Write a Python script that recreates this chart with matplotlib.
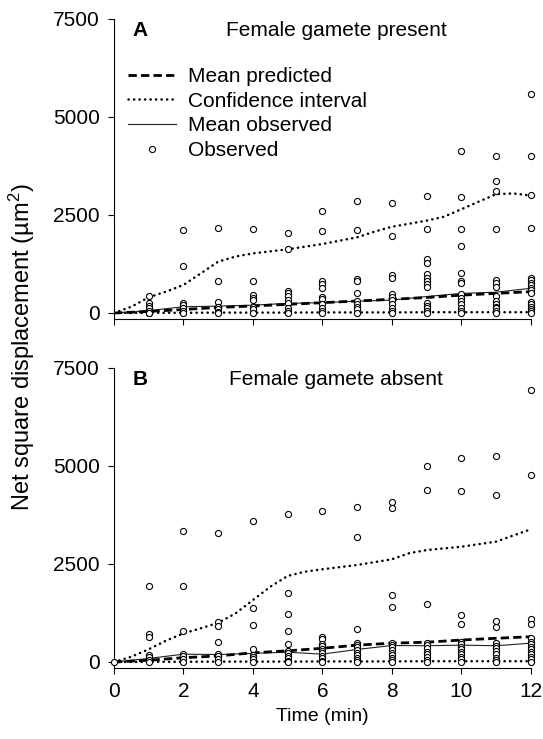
import matplotlib
matplotlib.use("Agg")
import matplotlib.pyplot as plt
from matplotlib.lines import Line2D

plt.rcParams['font.family'] = ['Liberation Sans', 'DejaVu Sans']
plt.rcParams['mathtext.fontset'] = 'custom'
plt.rcParams['mathtext.rm'] = 'Liberation Sans'

# ---- time axis (min) ----
times = list(range(13))
ci_times_a = [0, 0.5, 1, 1.5, 2, 2.5, 3, 3.5, 4, 5, 6, 7, 7.5, 8, 9, 9.5,
              10, 10.5, 11, 11.5, 12]
ci_times_b = [0, 0.5, 1, 1.5, 2, 2.5, 3, 3.5, 4, 4.5, 5, 5.5, 6, 7, 8, 8.5,
              9, 10, 11, 12]

# ---- Panel A: female gamete present ----
obs_a = {
    1: [430, 250, 180, 120, 50, 10, 0],
    2: [2120, 1200, 260, 200, 140, 60, 0],
    3: [2170, 820, 290, 160, 90, 30, 0],
    4: [2150, 820, 460, 390, 330, 160, 90, 0],
    5: [2040, 1625, 570, 500, 440, 330, 250, 140, 50, 0],
    6: [2600, 2100, 820, 730, 640, 420, 350, 220, 140, 50, 0],
    7: [2850, 2120, 880, 820, 520, 310, 220, 160, 90, 0],
    8: [2800, 1970, 980, 890, 480, 410, 330, 220, 140, 50, 0],
    9: [2980, 2140, 1370, 1280, 990, 900, 820, 730, 670, 250, 180, 120, 50, 0],
    10: [4130, 2950, 2140, 1710, 1010, 820, 770, 480, 390, 310, 220, 140, 50, 0],
    11: [4010, 3370, 3120, 2140, 840, 760, 670, 430, 300, 220, 160, 120, 50, 0],
    12: [5590, 4000, 3000, 2160, 900, 840, 770, 710, 650, 590, 520, 290, 220, 160, 90, 50, 0],
}
pred_a = [0, 40, 90, 140, 180, 220, 263, 306, 349, 395, 455, 500, 545]
mean_obs_a = [0, 60, 160, 175, 200, 245, 265, 300, 330, 420, 500, 530, 630]
ci_hi_a = [0, 160, 400, 545, 715, 1010, 1310, 1440, 1520, 1625, 1760, 1930,
           2075, 2200, 2355, 2455, 2645, 2840, 3030, 3050, 2995]
ci_lo_a = [0, 5, 5, 10, 10, 10, 15, 15, 15, 20, 20, 20, 20]

# ---- Panel B: female gamete absent ----
obs_b = {
    0: [0],
    1: [1950, 710, 640, 180, 120, 50, 10],
    2: [3340, 1940, 780, 200, 150, 80, 10],
    3: [3290, 1030, 930, 520, 200, 150, 70, 10],
    4: [3600, 1370, 940, 330, 180, 120, 70, 10],
    5: [3780, 1770, 1220, 790, 450, 280, 220, 150, 90, 30, 0],
    6: [3840, 650, 580, 470, 400, 330, 280, 220, 150, 90, 30, 0],
    7: [3950, 3180, 830, 490, 430, 370, 310, 240, 180, 110, 50, 0],
    8: [4070, 3940, 1710, 1400, 490, 430, 370, 310, 240, 180, 110, 50, 0],
    9: [5000, 4390, 1480, 490, 430, 350, 260, 200, 140, 50, 0],
    10: [5210, 4350, 1200, 980, 520, 450, 390, 320, 260, 200, 140, 70, 0],
    11: [5260, 4270, 1040, 890, 480, 410, 350, 280, 200, 110, 50, 0],
    12: [6940, 4780, 1090, 970, 600, 520, 450, 390, 320, 260, 200, 140, 70, 10],
}
pred_b = [0, 45, 110, 155, 235, 285, 350, 430, 480, 505, 560, 605, 645]
mean_obs_b = [0, 90, 200, 190, 220, 250, 200, 320, 420, 415, 430, 415, 480]
ci_hi_b = [0, 135, 325, 545, 730, 860, 1000, 1240, 1580, 1920, 2195, 2305,
           2365, 2475, 2620, 2775, 2855, 2940, 3070, 3385]
ci_lo_b = [0, 5, 5, 10, 10, 10, 15, 15, 15, 20, 20, 20, 20]

yticks = [0, 2500, 5000, 7500]
xticks = [0, 2, 4, 6, 8, 10, 12]

FS = 15
dash_style = (0, (3, 1.5))
dot_style = (0, (0.1, 2.1))
DOT_LW = 1.8

fig = plt.figure(figsize=(5.43, 7.39), dpi=100)
ax_a = fig.add_axes([0.20994, 0.56834, 0.76740, 0.40595])
ax_b = fig.add_axes([0.20994, 0.09608, 0.76740, 0.40595])


def draw_panel(ax, obs, pred, mean_obs, ci_t, ci_hi, ci_lo, letter, title):
    ax.plot(ci_t, ci_hi, color='black', lw=DOT_LW, linestyle=dot_style,
            dash_capstyle='round', zorder=2)
    ax.plot(times, ci_lo, color='black', lw=DOT_LW, linestyle=dot_style,
            dash_capstyle='round', zorder=2)
    ax.plot(times, mean_obs, color='#222222', lw=0.8, zorder=3)
    ax.plot(times, pred, color='black', lw=2.0, linestyle=dash_style, zorder=3)
    xs, ys = [], []
    for t, vals in obs.items():
        xs.extend([t] * len(vals))
        ys.extend(vals)
    ax.plot(xs, ys, linestyle='none', marker='o', ms=4.4, mfc='white',
            mec='black', mew=0.8, zorder=4, clip_on=False)

    ax.set_xlim(0, 12)
    ax.set_ylim(-153, 7500)
    ax.set_xticks(xticks)
    ax.set_yticks(yticks)
    for side in ('top', 'right'):
        ax.spines[side].set_visible(False)
    for side in ('left', 'bottom'):
        ax.spines[side].set_linewidth(0.8)
    ax.tick_params(axis='both', direction='out', length=4, width=0.8,
                   labelsize=FS)
    ax.tick_params(axis='y', pad=6)
    ax.tick_params(axis='x', pad=6)
    ax.text(0.045, 0.943, letter, transform=ax.transAxes, fontsize=FS,
            fontweight='bold', va='baseline', ha='left')
    ax.text(0.533, 0.943, title, transform=ax.transAxes, fontsize=FS,
            va='baseline', ha='center')


draw_panel(ax_a, obs_a, pred_a, mean_obs_a, ci_times_a, ci_hi_a, ci_lo_a,
           'A', 'Female gamete present')
draw_panel(ax_b, obs_b, pred_b, mean_obs_b, ci_times_b, ci_hi_b, ci_lo_b,
           'B', 'Female gamete absent')
ax_a.tick_params(axis='x', labelbottom=False)

handles = [
    Line2D([], [], color='black', lw=2.0, linestyle=dash_style),
    Line2D([], [], color='black', lw=DOT_LW, linestyle=dot_style,
           dash_capstyle='round'),
    Line2D([], [], color='#222222', lw=0.8),
    Line2D([], [], linestyle='none', marker='o', ms=4.4, mfc='white',
           mec='black', mew=0.8),
]
labels = ['Mean predicted', 'Confidence interval', 'Mean observed', 'Observed']
ax_a.legend(handles, labels, loc='upper left', bbox_to_anchor=(0.033, 0.84),
            frameon=False, fontsize=FS, handlelength=2.3,
            handletextpad=0.6, labelspacing=0.27, borderpad=0,
            borderaxespad=0)

ax_b.set_xlabel('Time (min)', fontsize=FS - 1, labelpad=5)
fig.text(0.04, 0.53, 'Net square displacement (µm$\\mathregular{^2}$)',
         rotation=90, fontsize=17, ha='center', va='center')

fig.savefig('out.png', dpi=100)
